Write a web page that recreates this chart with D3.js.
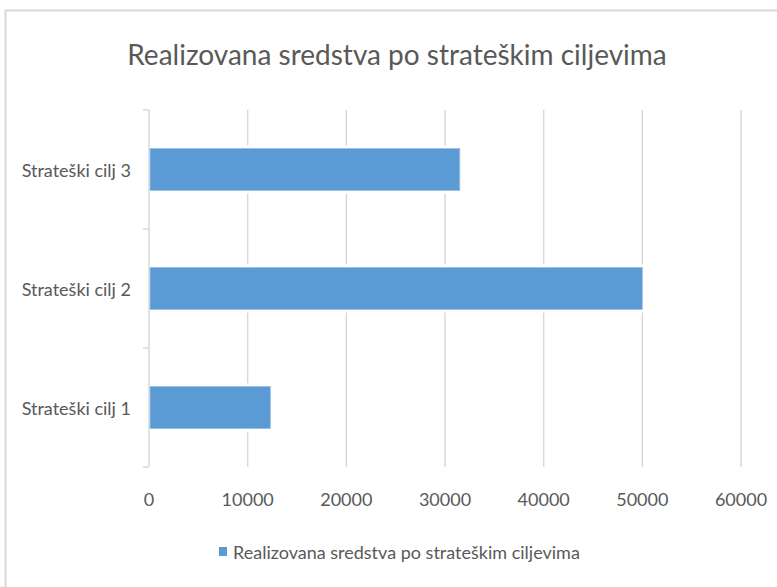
<!DOCTYPE html>
<html lang="sr">
	<head>
		<meta charset="UTF-8">
		<title>Realizovana sredstva</title>
		<style>
			body{margin:0;background:#fff;}
			svg{display:block;font-family:Lato,"Open Sans",sans-serif;}
			.grid line{stroke:#d9d9d9;stroke-width:1.5;}
			.txt{fill:#595959;}
		</style>
	</head>
	<body>
	<script src="https://cdn.jsdelivr.net/npm/d3@7"></script>
	<script>
		// podaci
		var categories = ["Strateški cilj 1","Strateški cilj 2","Strateški cilj 3"];
		var values = [12300,50000,31500];
		var xTicks = [0,10000,20000,30000,40000,50000,60000];
		var title = "Realizovana sredstva po strateškim ciljevima";
		var seriesName = "Realizovana sredstva po strateškim ciljevima";

		var W=777,H=587;
		var pLeft=149,pRight=741,pTop=110,pBottom=467;

		var svg = d3.select("body").append("svg")
			.attr("width",W).attr("height",H);

		// okvir
		svg.append("rect")
			.attr("x",5.5).attr("y",10.5)
			.attr("width",820).attr("height",620)
			.attr("fill","#fff")
			.attr("stroke","#d9d9d9").attr("stroke-width",2);

		var x = d3.scaleLinear().domain([0,60000]).range([pLeft,pRight]);
		// kategorije odozdo prema gore
		var y = d3.scaleBand()
			.domain(categories.slice().reverse())
			.range([pTop,pBottom])
			.paddingInner(0.645).paddingOuter(0.3225);

		var data = categories.map(function(c,i){return {cat:c,value:values[i]};});

		// mreza
		svg.append("g").attr("class","grid")
			.selectAll("line").data(xTicks.slice(1)).enter()
			.append("line")
			.attr("x1",function(d){return x(d);}).attr("x2",function(d){return x(d);})
			.attr("y1",pTop).attr("y2",pBottom);

		// y osa
		var step = y.step();
		var bounds = d3.range(categories.length+1).map(function(i){return pTop+i*step;});
		svg.append("line")
			.attr("x1",x(0)).attr("x2",x(0)).attr("y1",pTop).attr("y2",pBottom)
			.attr("stroke","#d9d9d9").attr("stroke-width",1.5);
		svg.append("g").selectAll("line").data(bounds).enter()
			.append("line")
			.attr("x1",x(0)-6).attr("x2",x(0))
			.attr("y1",function(d){return d;}).attr("y2",function(d){return d;})
			.attr("stroke","#d9d9d9").attr("stroke-width",1.5);

		// stupci
		var bars = svg.append("g").selectAll("g").data(data).enter().append("g");
		bars.append("rect")
			.attr("x",x(0)+1).attr("y",function(d){return y(d.cat)-3;})
			.attr("width",function(d){return x(d.value)-x(0)+2;})
			.attr("height",y.bandwidth()+6)
			.attr("fill","#fff");
		bars.append("rect")
			.attr("x",x(0)+1).attr("y",function(d){return y(d.cat);})
			.attr("width",function(d){return x(d.value)-x(0)-1;})
			.attr("height",y.bandwidth())
			.attr("fill","#5b9bd5")
			.attr("stroke","#9dc3e6").attr("stroke-width",0.8);

		// oznake kategorija
		svg.append("g").selectAll("text").data(categories).enter()
			.append("text").attr("class","txt")
			.attr("x",131)
			.attr("y",function(d){return y(d)+y.bandwidth()/2+7;})
			.attr("text-anchor","end")
			.style("font-size","18px")
			.text(function(d){return d;});

		// oznake x ose
		svg.append("g").selectAll("text").data(xTicks).enter()
			.append("text").attr("class","txt")
			.attr("x",function(d){return x(d);})
			.attr("y",506)
			.attr("text-anchor","middle")
			.style("font-size","18px")
			.text(function(d){return d;});

		// naslov
		svg.append("text").attr("class","txt")
			.attr("x",397).attr("y",65)
			.attr("text-anchor","middle")
			.style("font-size","28px")
			.text(title);

		// legenda
		svg.append("rect")
			.attr("x",219).attr("y",547).attr("width",8).attr("height",9)
			.attr("fill","#5b9bd5");
		svg.append("text").attr("class","txt")
			.attr("x",233).attr("y",559)
			.style("font-size","18px")
			.text(seriesName);
	</script>
	</body>
</html>
